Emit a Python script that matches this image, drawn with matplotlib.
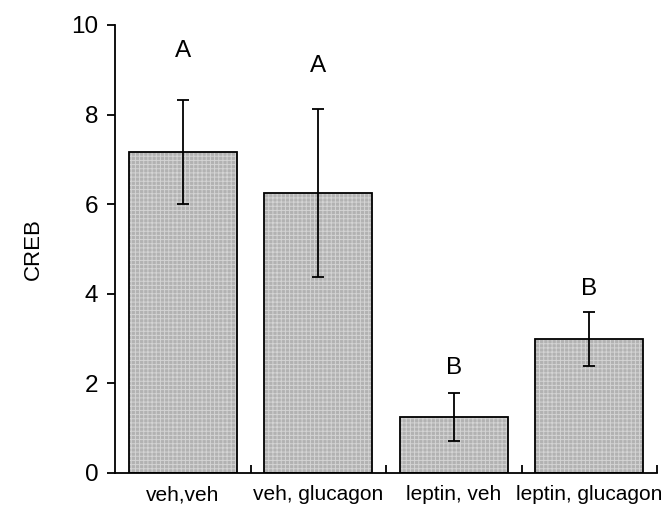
import matplotlib
matplotlib.use('Agg')
import matplotlib.pyplot as plt
import numpy as np

plt.rcParams['font.family'] = ['Liberation Sans', 'DejaVu Sans']
plt.rcParams['hatch.linewidth'] = 0.7

# CREB levels per treatment group, mean +/- error
groups = ['veh,veh', 'veh, glucagon', 'leptin, veh', 'leptin, glucagon']
means = [7.17, 6.25, 1.25, 2.99]
errors = [1.16, 1.87, 0.53, 0.6]
letters = ['A', 'A', 'B', 'B']
letter_y = [9.42, 9.09, 2.34, 4.1]

fig = plt.figure(figsize=(6.65, 5.08), dpi=100)
ax = fig.add_axes([0.173, 0.069, 0.815, 0.882])

x = np.arange(len(groups))
# stippled fill first, then the black outline on top
ax.bar(x, means, width=0.8, color='#b2b2b2', hatch='++++', edgecolor='#d4d4d4', linewidth=0)
ax.bar(x, means, width=0.8, fill=False, edgecolor='black', linewidth=1.3)
ax.errorbar(x, means, yerr=errors, fmt='none', ecolor='black', elinewidth=1.3, capsize=4, capthick=1.3)

for xi, lab, ly in zip(x, letters, letter_y):
    ax.text(xi, ly, lab, ha='center', va='center', fontsize=17.5)

ax.set_xlim(-0.5, 3.5)
ax.set_ylim(0, 10)
ax.set_yticks([0, 2, 4, 6, 8, 10])
ax.set_xticks(x)
ax.set_xticklabels(groups, fontsize=15)
ax.set_xticks(np.arange(0.5, 4, 1), minor=True)
ax.tick_params(axis='y', direction='out', length=6, width=1.3, labelsize=17.5, pad=6)
ax.tick_params(axis='x', which='major', length=0, pad=9)
ax.tick_params(axis='x', which='minor', direction='in', length=6, width=1.3)
ax.set_ylabel('CREB', fontsize=16, labelpad=20)

ax.spines['top'].set_visible(False)
ax.spines['right'].set_visible(False)
ax.spines['left'].set_linewidth(1.3)
ax.spines['bottom'].set_linewidth(1.3)

fig.savefig('out.png', dpi=100)
